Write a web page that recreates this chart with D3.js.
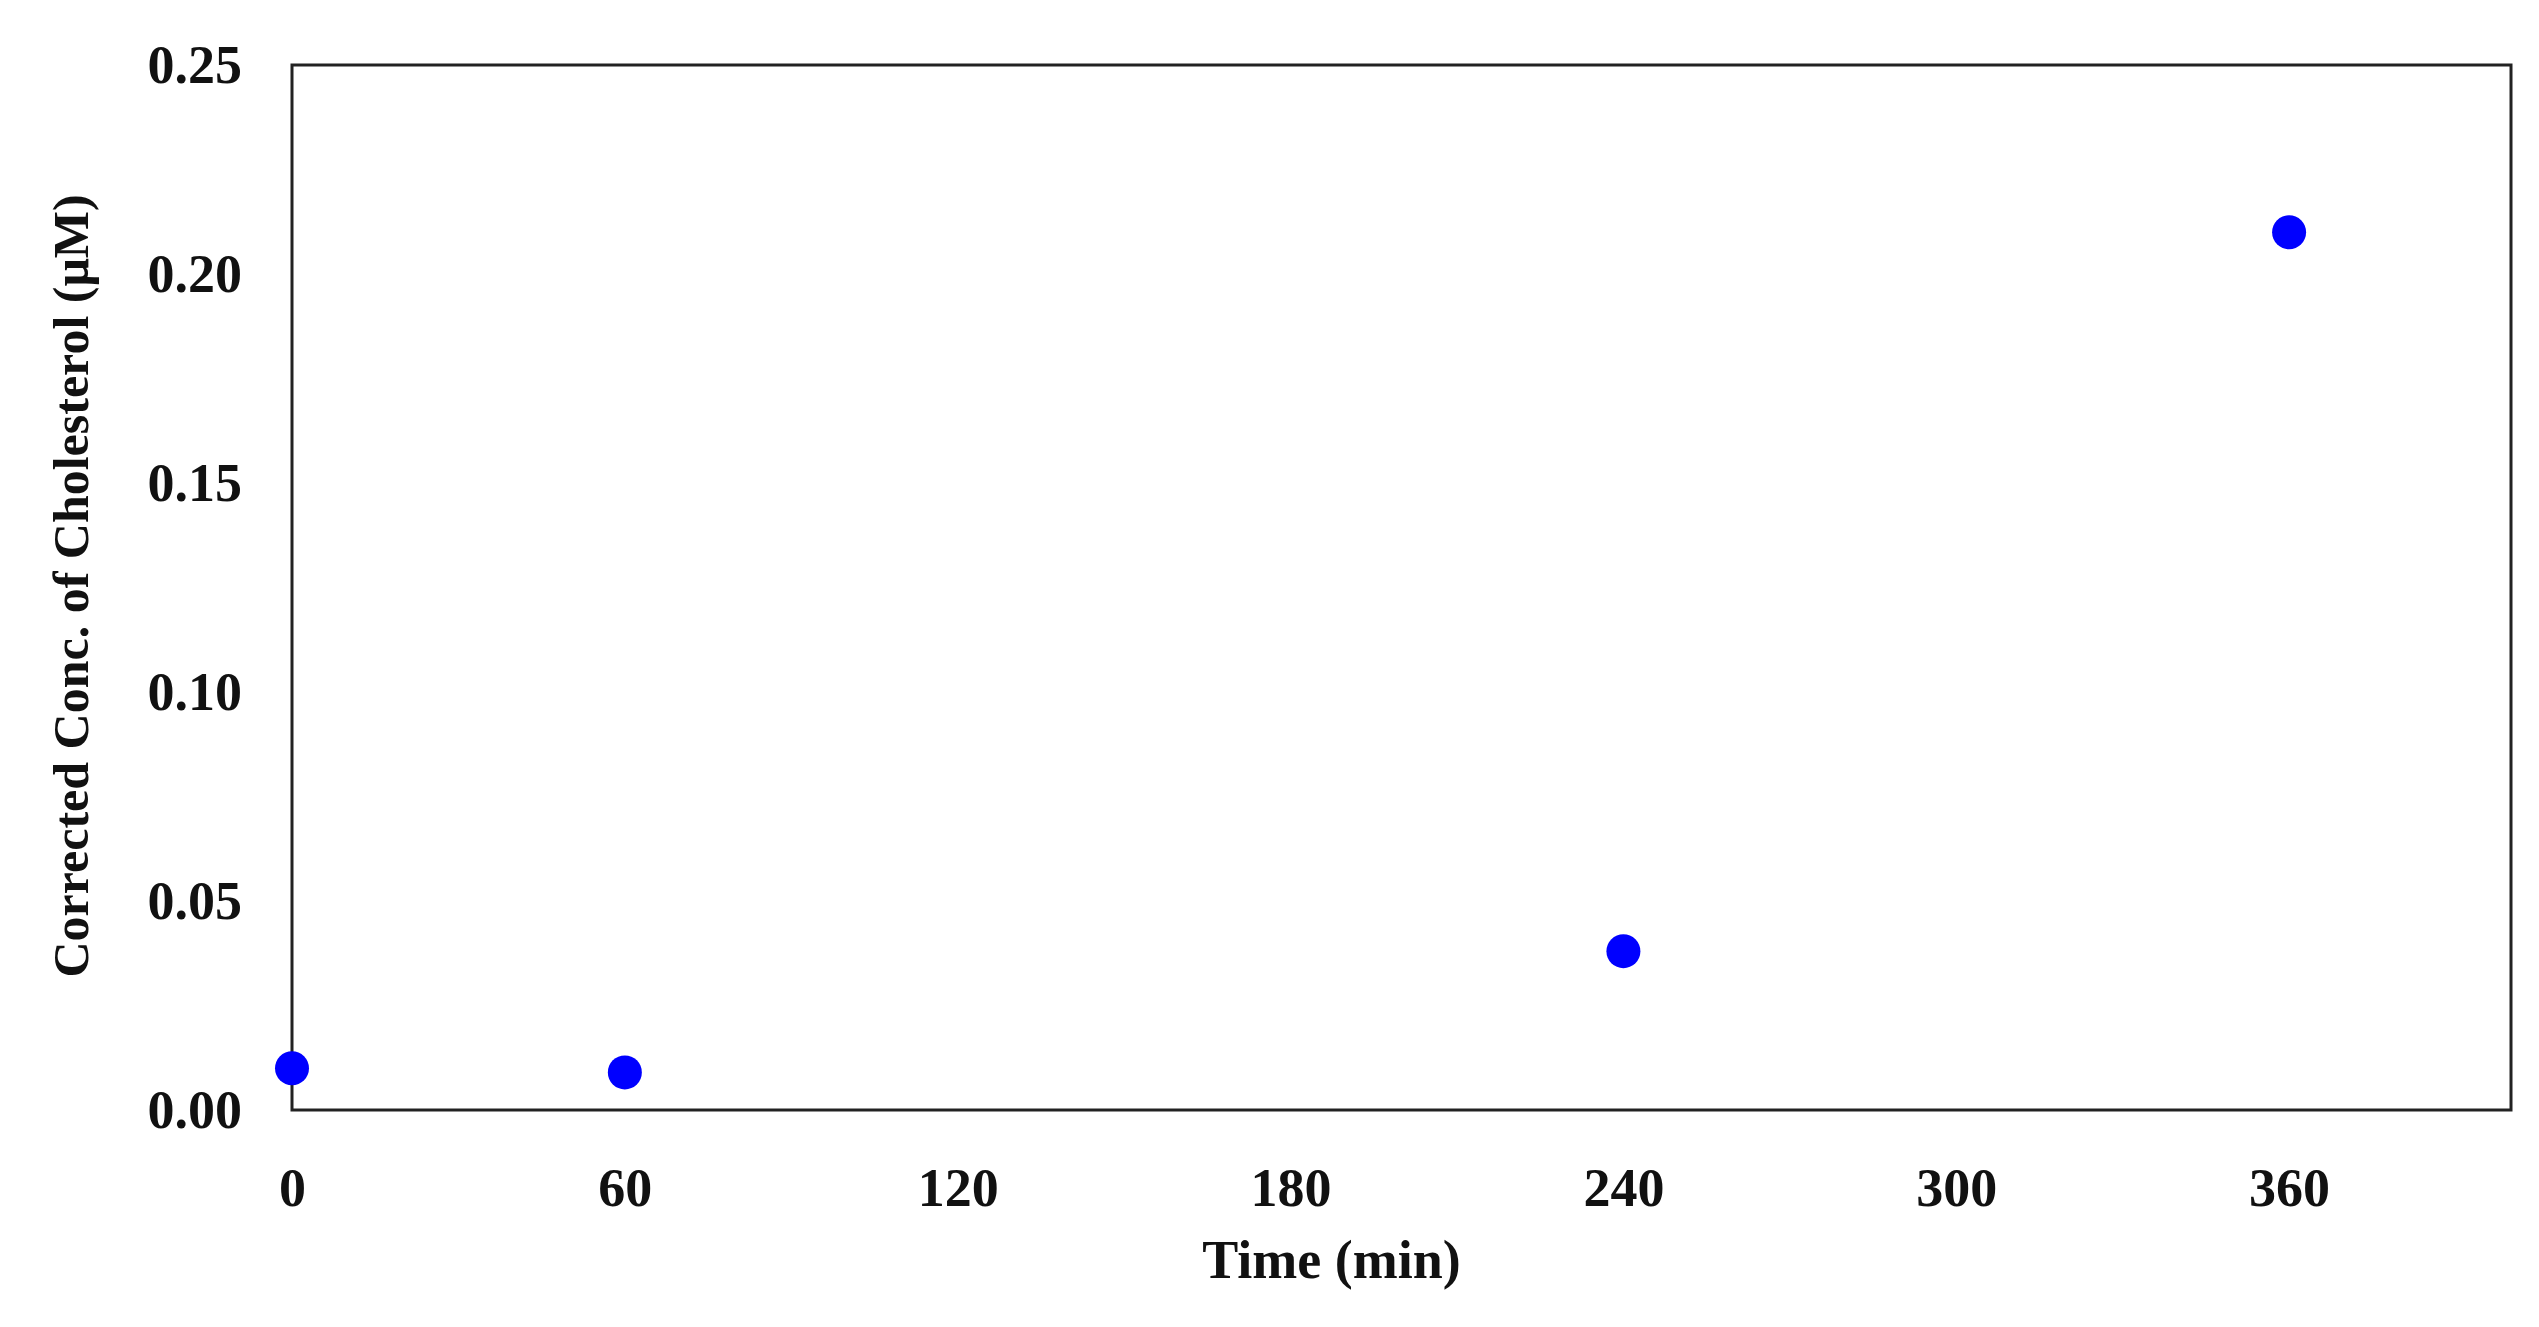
<!DOCTYPE html>
<html>
<head>
<meta charset="utf-8">
<script src="https://cdn.jsdelivr.net/npm/d3@7"></script>
<style>
  body { margin: 0; background: #fff; }
  text { font-family: "Liberation Serif", "DejaVu Serif", serif; font-weight: bold; fill: #111; }
</style>
</head>
<body>
<svg id="chart" width="2539" height="1327"></svg>
<script>
// datos
const times = [0, 60, 240, 360];
const conc = [0.010, 0.009, 0.038, 0.210];
const xTicks = [0, 60, 120, 180, 240, 300, 360];
const yTicks = [0, 0.05, 0.10, 0.15, 0.20, 0.25];

const mLeft = 292, mRight = 2511, mTop = 65, mBottom = 1110;
const svg = d3.select("#chart");

const x = d3.scaleLinear().domain([0, 400]).range([mLeft, mRight]);
const y = d3.scaleLinear().domain([0, 0.25]).range([mBottom, mTop]);

// marco
svg.append("rect")
  .attr("x", mLeft).attr("y", mTop)
  .attr("width", mRight - mLeft).attr("height", mBottom - mTop)
  .attr("fill", "none").attr("stroke", "#222").attr("stroke-width", 3);

// eje x
const xAxis = svg.append("g")
  .attr("transform", `translate(0,${mBottom})`)
  .call(d3.axisBottom(x).tickValues(xTicks).tickSize(0).tickPadding(58));
xAxis.select(".domain").remove();
xAxis.selectAll("text").style("font-size", "54px").attr("fill", "#111");

// eje y
const yAxis = svg.append("g")
  .attr("transform", `translate(${mLeft},0)`)
  .call(d3.axisLeft(y).tickValues(yTicks).tickFormat(d3.format(".2f")).tickSize(0).tickPadding(50));
yAxis.select(".domain").remove();
yAxis.selectAll("text").style("font-size", "54px").attr("fill", "#111");

// titulos
svg.append("text")
  .attr("x", (mLeft + x(400)) / 2 - 70).attr("y", 1278)
  .attr("text-anchor", "middle").style("font-size", "54px")
  .text("Time (min)");

svg.append("text")
  .attr("transform", "translate(88,586) rotate(-90)")
  .attr("text-anchor", "middle").style("font-size", "50px")
  .text("Corrected  Conc. of Cholesterol  (μM)");

// puntos
svg.selectAll("circle.pt")
  .data(times)
  .enter()
  .append("circle")
  .attr("class", "pt")
  .attr("cx", d => x(d))
  .attr("cy", (d, i) => y(conc[i]))
  .attr("r", 17)
  .attr("fill", "#0000ff");
</script>
</body>
</html>
